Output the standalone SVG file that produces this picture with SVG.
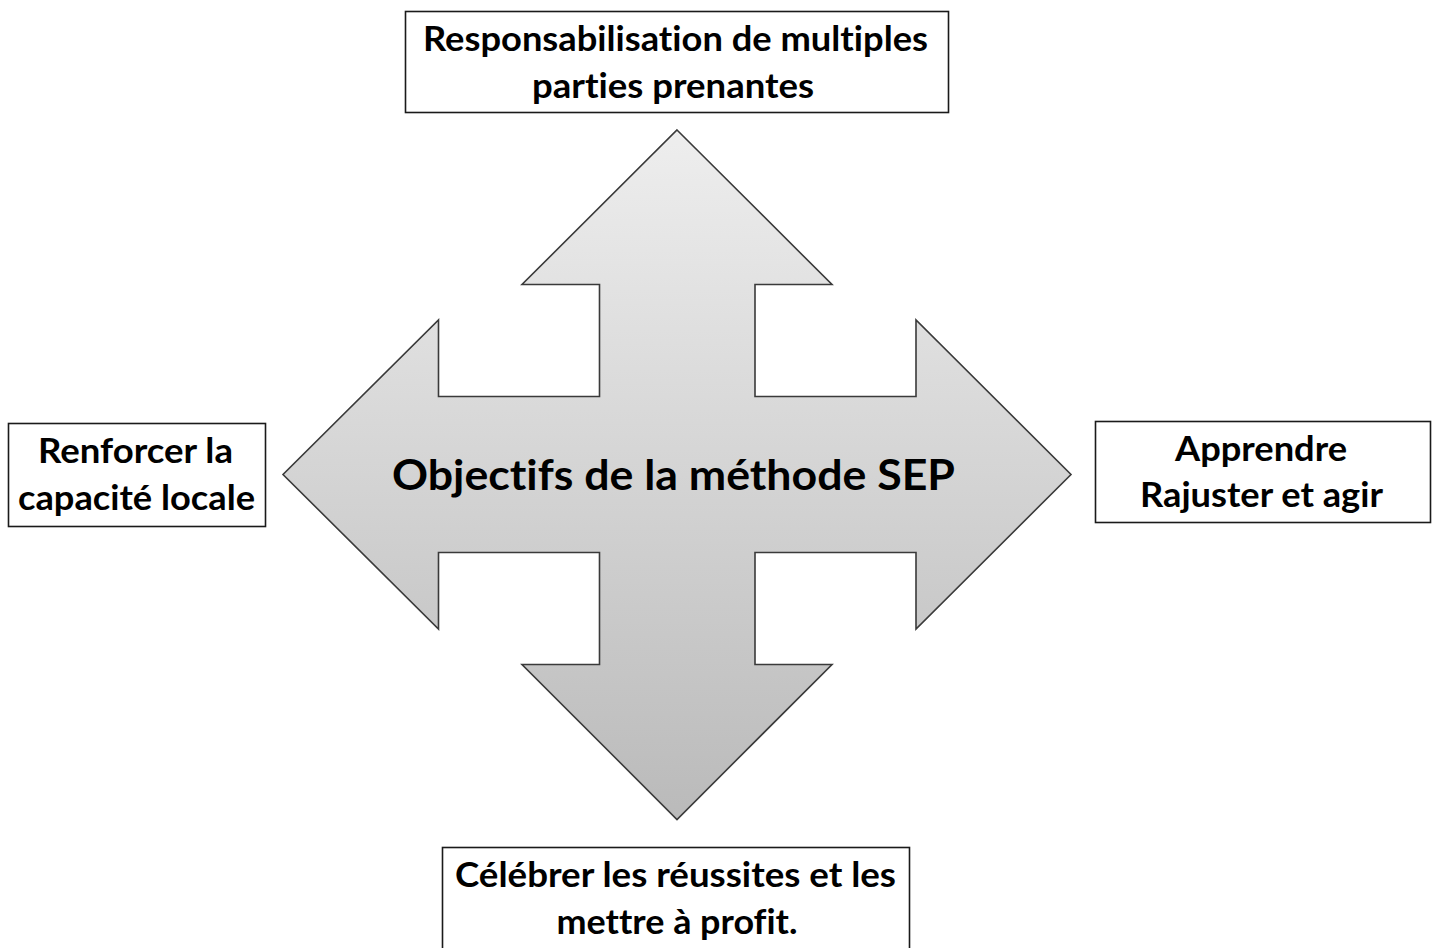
<svg xmlns="http://www.w3.org/2000/svg" width="1438" height="948" viewBox="0 0 1438 948">
  <defs>
    <linearGradient id="grey" x1="0" y1="130" x2="0" y2="820" gradientUnits="userSpaceOnUse">
      <stop offset="0" stop-color="#eeeeee"/>
      <stop offset="1" stop-color="#bababa"/>
    </linearGradient>
    <style>
      .box { fill: #ffffff; stroke: #1a1a1a; stroke-width: 1.6; }
      .lbl { font-family: Lato, "Open Sans", "Liberation Sans", sans-serif; font-weight: bold; font-size: 33.5px; fill: #000000; text-anchor: middle; font-variant-ligatures: none; font-feature-settings: "liga" 0, "clig" 0, "dlig" 0; }
      .ctr { font-size: 42.5px; }
    </style>
  </defs>
  <rect width="1438" height="948" fill="#ffffff"/>

  <g id="center">
    <path d="M677,130 L832,284.5 L755,284.5 L755,396.5 L916,396.5 L916,320 L1071,474.5 L916,629 L916,552.5 L755,552.5 L755,664.5 L832,664.5 L677,819.5 L522,664.5 L599.5,664.5 L599.5,552.5 L438.5,552.5 L438.5,629 L283,474.5 L438.5,320 L438.5,396.5 L599.5,396.5 L599.5,284.5 L522,284.5 Z" fill="url(#grey)" stroke="#3a3a3a" stroke-width="1.6" stroke-linejoin="miter"/>
    <text class="lbl ctr" x="673.5" y="490" textLength="563" lengthAdjust="spacingAndGlyphs">Objectifs de la méthode SEP</text>
  </g>

  <g id="top">
    <rect class="box" x="405.5" y="11.5" width="543" height="101"/>
    <text class="lbl" x="675.5" y="51" textLength="505" lengthAdjust="spacingAndGlyphs">Responsabilisation de multiples</text>
    <text class="lbl" x="673" y="98" textLength="282" lengthAdjust="spacingAndGlyphs">parties prenantes</text>
  </g>

  <g id="left">
    <rect class="box" x="8.5" y="423.5" width="257" height="103"/>
    <text class="lbl" x="135.5" y="463" textLength="195" lengthAdjust="spacingAndGlyphs">Renforcer la</text>
    <text class="lbl" x="136.5" y="510" textLength="237" lengthAdjust="spacingAndGlyphs">capacité locale</text>
  </g>

  <g id="right">
    <rect class="box" x="1095.5" y="421.5" width="335" height="101"/>
    <text class="lbl" x="1261" y="461" textLength="172" lengthAdjust="spacingAndGlyphs">Apprendre</text>
    <text class="lbl" x="1261.5" y="507" textLength="243" lengthAdjust="spacingAndGlyphs">Rajuster et agir</text>
  </g>

  <g id="bottom">
    <rect class="box" x="442.5" y="847.5" width="467" height="120"/>
    <text class="lbl" x="675.5" y="887" textLength="441" lengthAdjust="spacingAndGlyphs">Célébrer les réussites et les</text>
    <text class="lbl" x="677" y="934" textLength="241" lengthAdjust="spacingAndGlyphs">mettre à profit.</text>
  </g>

  <g id="connectors"></g>
</svg>
